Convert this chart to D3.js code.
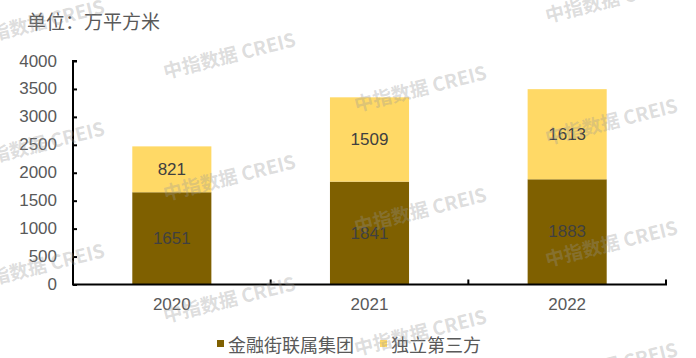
<!DOCTYPE html>
<html>
<head>
<meta charset="utf-8">
<script src="https://cdn.jsdelivr.net/npm/d3@7"></script>
<style>
  html, body { margin: 0; padding: 0; background: #fff; }
  svg { display: block; }
  text { font-family: "Liberation Sans", Arial, "Noto Sans CJK SC", sans-serif; }
</style>
</head>
<body>
<svg id="chart" width="696" height="358"></svg>
<script>
const categories = ["2020", "2021", "2022"];
const seriesNames = ["金融街联属集团", "独立第三方"];
const financialStreet = [1651, 1841, 1883];
const thirdParty = [821, 1509, 1613];
const yTicks = [0, 500, 1000, 1500, 2000, 2500, 3000, 3500, 4000];
const unitLabel = "单位：万平方米";
const watermarkText = "中指数据 CREIS";

const colors = ["#7F6000", "#FFD966"];
const svg = d3.select("#chart");
const W = 696, H = 358;
const mLeft = 73, mRight = 666, mTop = 61, mBottom = 284.5;

const x = d3.scaleBand().domain(categories).range([mLeft, mRight]).paddingInner(0.6).paddingOuter(0.3);
const xb = d3.scaleBand().domain(categories).range([mLeft, mRight]).padding(0);
const y = d3.scaleLinear().domain([0, 4000]).range([mBottom, mTop]);

const rows = categories.map((c, i) => ({ cat: c, a: financialStreet[i], b: thirdParty[i] }));
const stack = d3.stack().keys(["a", "b"])(rows);

// bars
stack.forEach((layer, k) => {
  svg.append("g").selectAll("rect").data(layer).join("rect")
    .attr("x", d => x(d.data.cat))
    .attr("width", x.bandwidth())
    .attr("y", d => y(d[1]))
    .attr("height", d => y(d[0]) - y(d[1]))
    .attr("fill", colors[k]);
});

// data labels
stack.forEach((layer) => {
  svg.append("g").selectAll("text").data(layer).join("text")
    .attr("x", d => x(d.data.cat) + x.bandwidth() / 2)
    .attr("y", d => (y(d[0]) + y(d[1])) / 2)
    .attr("text-anchor", "middle")
    .attr("dominant-baseline", "central")
    .attr("font-size", 17)
    .attr("fill", "#404040")
    .text(d => d[1] - d[0]);
});

// y axis
const yAxis = svg.append("g").attr("transform", `translate(${mLeft},0)`)
  .call(d3.axisRight(y).tickValues(yTicks).tickSize(4).tickFormat(""));
yAxis.select(".domain").attr("stroke", "#000").attr("stroke-width", 2).attr("d", `M4,${mTop}H0V${mBottom}`);
yAxis.selectAll(".tick line").attr("stroke", "#000").attr("stroke-width", 2);
svg.append("g").selectAll("text").data(yTicks).join("text")
  .attr("x", 57).attr("y", d => y(d))
  .attr("text-anchor", "end").attr("dominant-baseline", "central")
  .attr("font-size", 17).attr("fill", "#595959")
  .text(d => d);

// x axis
const boundaries = categories.map(c => xb(c)).concat([mRight]);
const xAxisG = svg.append("g");
xAxisG.append("line").attr("x1", mLeft - 1).attr("x2", mRight + 1).attr("y1", mBottom).attr("y2", mBottom)
  .attr("stroke", "#000").attr("stroke-width", 2);
xAxisG.selectAll("line.tk").data(boundaries.slice(1)).join("line").attr("class", "tk")
  .attr("x1", d => d).attr("x2", d => d).attr("y1", mBottom).attr("y2", mBottom - 5)
  .attr("stroke", "#000").attr("stroke-width", 2);
xAxisG.selectAll("text").data(categories).join("text")
  .attr("x", d => x(d) + x.bandwidth() / 2).attr("y", 304)
  .attr("text-anchor", "middle").attr("dominant-baseline", "central")
  .attr("font-size", 17).attr("fill", "#595959")
  .text(d => d);

// title
svg.append("text").attr("x", 27).attr("y", 20)
  .attr("dominant-baseline", "central")
  .attr("font-size", 19).attr("fill", "#595959")
  .style("font-family", "'Noto Sans CJK SC', sans-serif")
  .text(unitLabel);

// legend
const legendPos = [217, 380];
const lg = svg.append("g");
seriesNames.forEach((name, i) => {
  lg.append("rect").attr("x", legendPos[i]).attr("y", 340).attr("width", 7).attr("height", 7).attr("fill", colors[i]);
  lg.append("text").attr("x", legendPos[i] + 11).attr("y", 343.5)
    .attr("dominant-baseline", "central")
    .attr("font-size", 18).attr("fill", "#595959")
    .style("font-family", "'Noto Sans CJK SC', sans-serif")
    .text(name);
});

// watermark
const wm = svg.append("g").attr("pointer-events", "none");
for (let c = 0; c < 4; c++) {
  for (let r = -1; r < 4; r++) {
    const cx = 38 + c * 191;
    const cy = 21 + c * 33 + r * 122;
    if (cy < -40 || cy > H + 40) continue;
    wm.append("text")
      .attr("transform", `translate(${cx},${cy}) rotate(-14)`)
      .attr("text-anchor", "middle").attr("dominant-baseline", "central")
      .attr("font-size", 19).attr("font-weight", "bold")
      .style("font-family", "'Noto Sans CJK SC', sans-serif")
      .attr("fill", "rgb(150,150,150)").attr("fill-opacity", 0.33)
      .text(watermarkText);
  }
}
</script>
</body>
</html>
